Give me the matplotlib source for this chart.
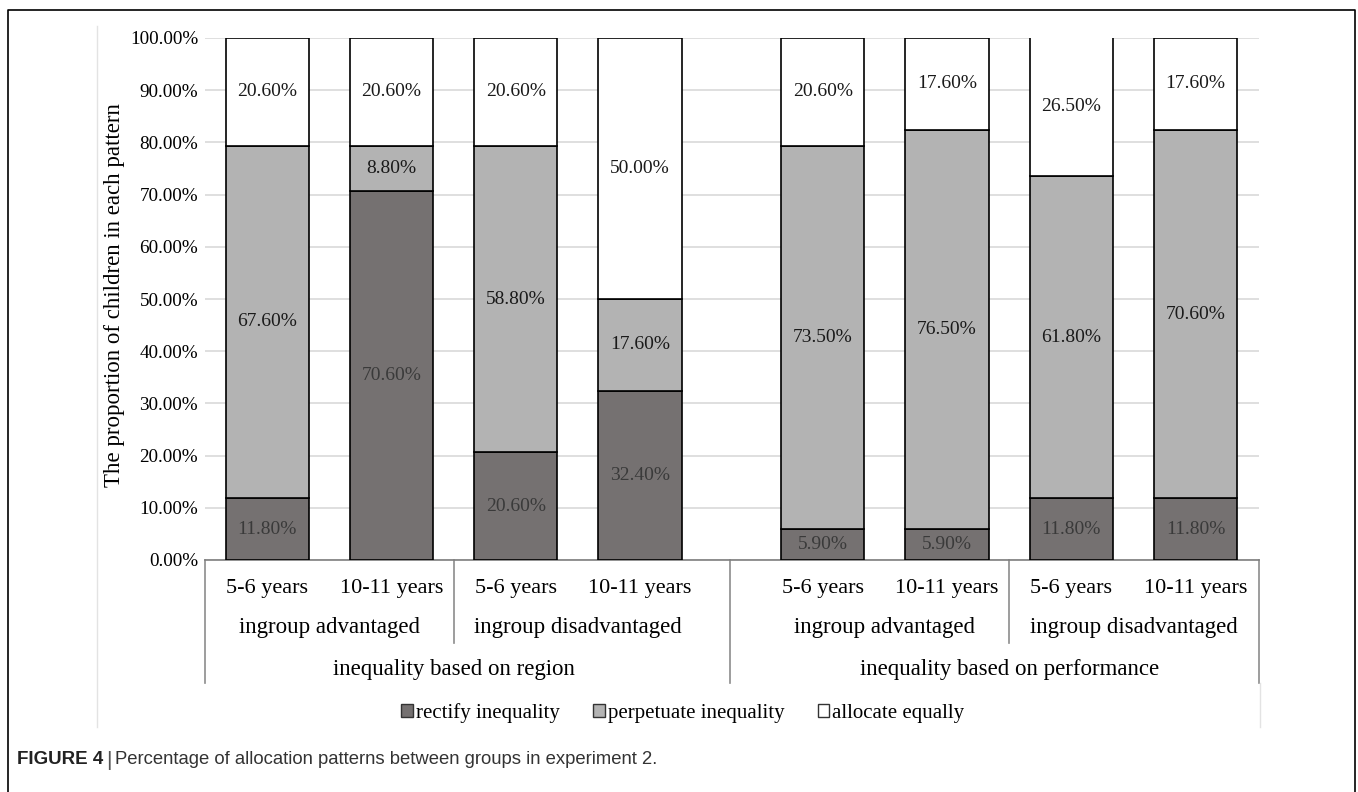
import matplotlib.pyplot as plt
from matplotlib.patches import Patch
from matplotlib.lines import Line2D
import numpy as np

# data (percent of children in each pattern)
ages = ['5-6 years', '10-11 years'] * 4
groups = ['ingroup advantaged', 'ingroup disadvantaged'] * 2
bases = ['inequality based on region', 'inequality based on performance']
rectify = [11.8, 70.6, 20.6, 32.4, 5.9, 5.9, 11.8, 11.8]
perpetuate = [67.6, 8.8, 58.8, 17.6, 73.5, 76.5, 61.8, 70.6]
equal = [20.6, 20.6, 20.6, 50.0, 20.6, 17.6, 26.5, 17.6]
series_names = ['rectify inequality', 'perpetuate inequality', 'allocate equally']
yticks = np.arange(0, 101, 10)

c_rect = '#757171'
c_perp = '#b3b3b3'
c_eq = '#ffffff'
serif = 'Liberation Serif'
W, H = 1358, 792

fig = plt.figure(figsize=(W / 100, H / 100), dpi=100)
ax = fig.add_axes([205 / W, 1 - 560 / H, (1259 - 205) / W, (560 - 38) / H])

# bar centres: two blocks of four, second block shifted by a half-slot gap
x = np.array([0.5, 1.5, 2.5, 3.5, 4.97, 5.97, 6.97, 7.97])
bw = 0.67
bottoms2 = np.array(rectify)
bottoms3 = bottoms2 + np.array(perpetuate)
ax.bar(x, rectify, bw, color=c_rect, edgecolor='black', linewidth=1.2, zorder=3)
ax.bar(x, perpetuate, bw, bottom=bottoms2, color=c_perp, edgecolor='black', linewidth=1.2, zorder=3)
ax.bar(x, equal, bw, bottom=bottoms3, color=c_eq, edgecolor='black', linewidth=1.2, zorder=3)

for i in range(len(x)):
    ax.text(x[i], rectify[i] / 2, f'{rectify[i]:.2f}%', ha='center', va='center',
            fontsize=14, family=serif, color='#3a3a3a', zorder=4)
    ax.text(x[i], bottoms2[i] + perpetuate[i] / 2, f'{perpetuate[i]:.2f}%', ha='center', va='center',
            fontsize=14, family=serif, color='#1a1a1a', zorder=4)
    ax.text(x[i], bottoms3[i] + equal[i] / 2, f'{equal[i]:.2f}%', ha='center', va='center',
            fontsize=14, family=serif, color='#1a1a1a', zorder=4)

ax.set_xlim(0, 8.48)
ax.set_ylim(0, 100)
ax.set_yticks(yticks)
ax.set_yticklabels([f'{v:.2f}%' for v in yticks], family=serif, fontsize=13.8)
ax.tick_params(axis='y', length=0, pad=5)
ax.set_xticks([])
ax.grid(axis='y', color='#d9d9d9', linewidth=1.2, zorder=0)
for s in ['left', 'right', 'top']:
    ax.spines[s].set_visible(False)
ax.spines['bottom'].set_color('#7f7f7f')
ax.spines['bottom'].set_linewidth(1.2)

ax.text(115 / W, 1 - 295 / H, 'The proportion of children in each pattern', rotation=90,
        ha='center', va='center', fontsize=16.5, family=serif, transform=fig.transFigure)

# multi-level category axis drawn as a table under the plot
def ay(py):
    return (560 - py) / 522

trans = ax.get_xaxis_transform()
for i, lab in enumerate(ages):
    ax.text(x[i], ay(588), lab, ha='center', va='center', fontsize=16, family=serif,
            transform=trans, clip_on=False)
for j, lab in enumerate(groups):
    ax.text(x[2 * j:2 * j + 2].mean(), ay(627), lab, ha='center', va='center', fontsize=16.5,
            family=serif, transform=trans, clip_on=False)
for k, lab in enumerate(bases):
    ax.text(x[4 * k:4 * k + 4].mean(), ay(669), lab, ha='center', va='center', fontsize=16.5,
            family=serif, transform=trans, clip_on=False)

tc = '#8c8c8c'
for xv, yb in [(0, 683), (4.22, 683), (8.48, 683), (2.0, 643), (6.47, 643)]:
    ax.add_line(Line2D([xv, xv], [0, ay(yb)], color=tc, linewidth=1.2, transform=trans, clip_on=False))

# chart area border (faint) and outer frame
fig.add_artist(Line2D([97 / W, 97 / W], [1 - 26 / H, 1 - 727 / H], color='#e3e3e3', linewidth=1))
fig.add_artist(Line2D([1260 / W, 1260 / W], [1 - 683 / H, 1 - 727 / H], color='#e3e3e3', linewidth=1))
fig.add_artist(Line2D([8 / W, 8 / W, 1355 / W, 1355 / W], [0, 1 - 10 / H, 1 - 10 / H, 0],
                      color='black', linewidth=1.2))

handles = [Patch(facecolor=c, edgecolor='#333333', linewidth=1) for c in (c_rect, c_perp, c_eq)]
fig.legend(handles, series_names, loc='center', bbox_to_anchor=(683 / W, 1 - 713 / H), ncol=3,
           frameon=False, prop={'family': serif, 'size': 15}, handlelength=0.55, handleheight=0.55,
           handletextpad=0.15, columnspacing=1.6)

# caption
cap_font = ['Liberation Sans Narrow', 'Liberation Sans']
t1 = fig.text(17 / W, 1 - 760 / H, 'FIGURE 4', fontsize=13.5, fontweight='bold', family=cap_font,
              va='center', color='#222222')
fig.canvas.draw()
bb = t1.get_window_extent()
t2 = fig.text((bb.x1 + 3) / W, 1 - 760 / H, '|', fontsize=15, family=cap_font, va='center', color='#555555')
fig.canvas.draw()
bb2 = t2.get_window_extent()
fig.text((bb2.x1 + 3) / W, 1 - 760 / H, 'Percentage of allocation patterns between groups in experiment 2.',
         fontsize=13.3, family=cap_font, va='center', color='#333333')

fig.savefig('out.png', dpi=100)
